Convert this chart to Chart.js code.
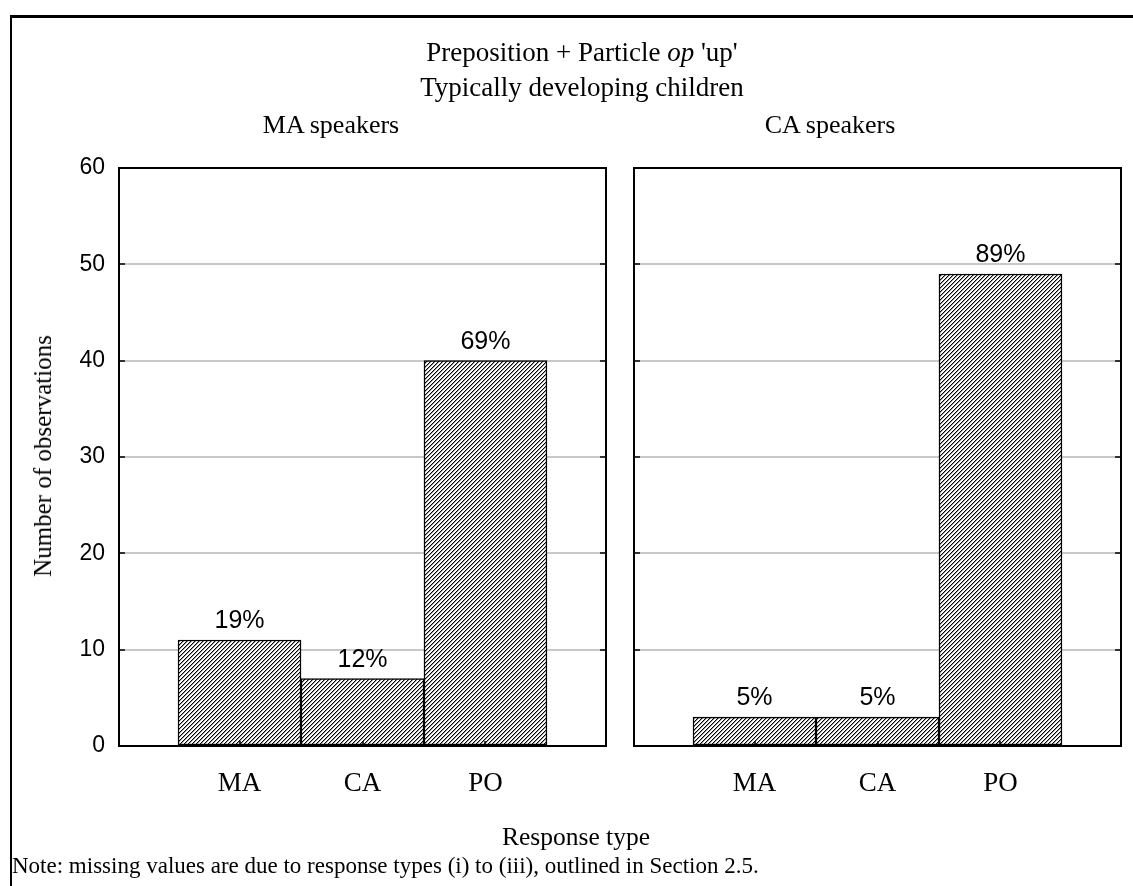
<!DOCTYPE html>
<html>
<head>
<meta charset="utf-8">
<script src="https://cdn.jsdelivr.net/npm/chart.js@4.4.0/dist/chart.umd.min.js"></script>
<style>
  body { margin: 0; background: #fff; }
  #page { position: relative; width: 1133px; height: 886px; overflow: hidden; background: #fff; }
  #frame { position: absolute; left: 10px; top: 15px; width: 1200px; height: 1000px;
           border-top: 3px solid #000; border-left: 2px solid #000; }
  canvas { position: absolute; top: 0; }
  .txt { position: absolute; transform: translate(-50%, -50%); white-space: nowrap;
         font-family: "Liberation Serif", serif; font-size: 25px; color: #000; }
</style>
</head>
<body>
<div id="page">
  <div id="frame"></div>
  <canvas id="chartMA" width="620" height="886" style="left:0;width:620px;height:886px"></canvas>
  <canvas id="chartCA" width="513" height="886" style="left:620px;width:513px;height:886px"></canvas>
  <div class="txt" style="left:582px;top:52px;font-size:27px">Preposition + Particle <i>op</i> 'up'</div>
  <div class="txt" style="left:582px;top:87px;font-size:27px">Typically developing children</div>
  <div class="txt" style="left:331px;top:125px;font-size:26px">MA speakers</div>
  <div class="txt" style="left:830px;top:125px;font-size:26px">CA speakers</div>
  <div class="txt" style="left:43px;top:456px;transform:translate(-50%,-50%) rotate(-90deg)">Number of observations</div>
  <div class="txt" style="left:576px;top:837px;font-size:25.5px">Response type</div>
  <div class="txt" style="left:12px;top:866px;transform:translate(0,-50%);font-size:23px">Note: missing values are due to response types (i) to (iii), outlined in Section 2.5.</div>
</div>
<script>
const categories = ['MA', 'CA', 'PO'];
const yTicks = [0, 10, 20, 30, 40, 50, 60];
const maCounts = [11, 7, 40];
const maPercent = ['19%', '12%', '69%'];
const caCounts = [3, 3, 49];
const caPercent = ['5%', '5%', '89%'];

function hatch() {
  const c = document.createElement('canvas');
  c.width = c.height = 4;
  const g = c.getContext('2d');
  g.fillStyle = '#fff';
  g.fillRect(0, 0, 4, 4);
  g.fillStyle = '#000';
  for (let i = 0; i < 4; i++) g.fillRect(i, 3 - i, 1, 1);
  g.fillStyle = '#9a9a9a';
  for (let i = 0; i < 4; i++) g.fillRect(i, (4 - i) % 4, 1, 1);
  return g.createPattern(c, 'repeat');
}

const panelBox = {
  id: 'panelBox',
  afterDatasetsDraw(chart, args, opts) {
    const { ctx, chartArea: a, scales: { x, y } } = chart;
    ctx.save();
    ctx.strokeStyle = '#000';
    ctx.lineWidth = 2;
    ctx.strokeRect(a.left, a.top, a.right - a.left, a.bottom - a.top);
    ctx.beginPath();
    y.ticks.forEach(t => {
      const py = Math.round(y.getPixelForValue(t.value));
      ctx.moveTo(a.left, py); ctx.lineTo(a.left + 6, py);
      ctx.moveTo(a.right - 6, py); ctx.lineTo(a.right, py);
    });
    x.ticks.forEach(t => {
      const px = Math.round(x.getPixelForValue(t.value));
      ctx.moveTo(px, a.bottom); ctx.lineTo(px, a.bottom - 5);
    });
    ctx.lineWidth = 1.5;
    ctx.stroke();

    // percentage above each bar
    ctx.fillStyle = '#000';
    ctx.font = '25px "Liberation Sans", sans-serif';
    ctx.textAlign = 'center';
    ctx.textBaseline = 'bottom';
    chart.getDatasetMeta(0).data.forEach((bar, i) => {
      ctx.fillText(opts.labels[i], bar.x, bar.y - 6);
    });
    ctx.restore();
  }
};

function makePanel(id, counts, percent, showY, padRight, yWidth) {
  return new Chart(document.getElementById(id), {
    type: 'bar',
    data: {
      datasets: [{
        data: counts.map((v, i) => ({ x: i, y: v })),
        backgroundColor: hatch(),
        borderColor: '#000',
        borderWidth: 1.5,
        borderSkipped: false,
        barPercentage: 1,
        categoryPercentage: 1
      }]
    },
    plugins: [panelBox],
    options: {
      responsive: false,
      animation: false,
      layout: { padding: { top: 168, right: padRight, left: 0, bottom: 0 } },
      plugins: {
        legend: { display: false },
        tooltip: { enabled: false },
        panelBox: { labels: percent }
      },
      scales: {
        x: {
          type: 'linear',
          offset: false,
          min: -0.98,
          max: 2.98,
          afterBuildTicks: s => { s.ticks = categories.map((c, i) => ({ value: i })); },
          afterFit: s => { s.height = 140; },
          grid: { display: false },
          border: { display: false },
          ticks: {
            color: '#000',
            padding: 14,
            font: { family: '"Liberation Serif", serif', size: 27 },
            callback: v => categories[v]
          }
        },
        y: {
          min: 0,
          max: 60,
          afterBuildTicks: s => { s.ticks = yTicks.map(v => ({ value: v })); },
          afterFit: s => { s.width = yWidth; },
          border: { display: false },
          grid: {
            drawTicks: false,
            color: c => (c.tick && (c.tick.value === 0 || c.tick.value === 60)) ? 'rgba(0,0,0,0)' : '#c8c8c8',
            lineWidth: 2
          },
          ticks: {
            display: showY,
            color: '#000',
            padding: 14,
            font: { family: '"Liberation Sans", sans-serif', size: 23 }
          }
        }
      }
    }
  });
}

makePanel('chartMA', maCounts, maPercent, true, 14, 119);
makePanel('chartCA', caCounts, caPercent, false, 12, 14);
</script>
</body>
</html>
